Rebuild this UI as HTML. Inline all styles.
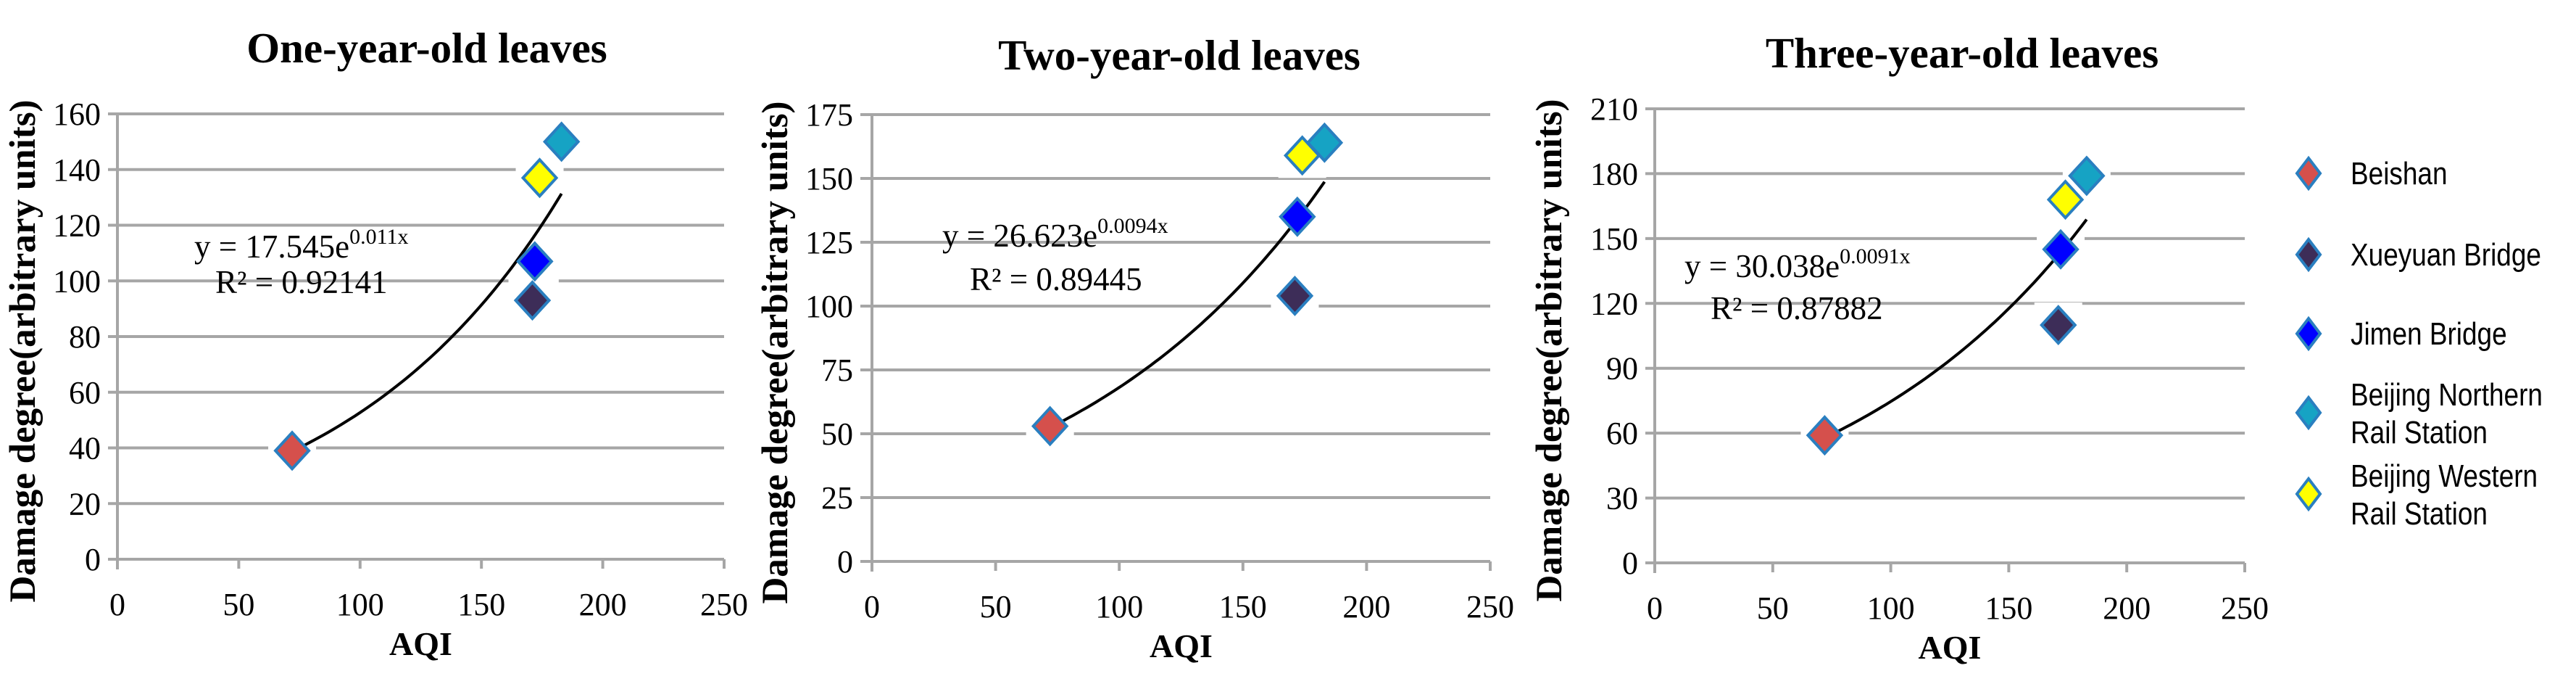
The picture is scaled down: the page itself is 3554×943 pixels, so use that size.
<!DOCTYPE html>
<html><head><meta charset="utf-8"><style>
html,body{margin:0;padding:0;background:#fff;}
svg{display:block;}
text{font-family:"Liberation Serif",serif;}
</style></head><body>
<svg id="svg" width="3554" height="943" viewBox="0 0 3554 943"></svg>
<script>
const NS="http://www.w3.org/2000/svg";
const svg=document.getElementById('svg');
const seriesNames=["Beishan","Xueyuan Bridge","Jimen Bridge","Beijing Northern Rail Station","Beijing Western Rail Station"];
const seriesColors=["#d5504c","#3d2d58","#0000ff","#16a3c4","#ffff00"];
const aqi=[72,171,172,183,174];
const oneYear=[39,93,107,150,137];
const twoYear=[53,104,135,164,159];
const threeYear=[59,110,145,179,168];
const xTicks=[0,50,100,150,200,250];
const yTicks1=[0,20,40,60,80,100,120,140,160];
const yTicks2=[0,25,50,75,100,125,150,175];
const yTicks3=[0,30,60,90,120,150,180,210];
const fitA=[17.545,26.623,30.038];
const fitB=[0.011,0.0094,0.0091];
const eqText=[["17.545","0.011x","0.92141"],["26.623","0.0094x","0.89445"],["30.038","0.0091x","0.87882"]];
const titles=["One-year-old leaves","Two-year-old leaves","Three-year-old leaves"];

function mk(tag,attrs,parent){const e=document.createElementNS(NS,tag);for(const k in attrs)e.setAttribute(k,attrs[k]);(parent||svg).appendChild(e);return e;}

const panels=[
 {x0:162,x1:999,y0:771,y1:157,gl:149,title:[589,65],yt:31,eq:[268,355],r2:[297,404],data:oneYear,ticks:yTicks1},
 {x0:1203,x1:2056,y0:774,y1:158,gl:1187,title:[1627,75],yt:1069,eq:[1300,340],r2:[1338,400],data:twoYear,ticks:yTicks2},
 {x0:2283,x1:3097,y0:776,y1:150,gl:2270,title:[2707,72],yt:2137,eq:[2324,382],r2:[2360,440],data:threeYear,ticks:yTicks3}
];

panels.forEach((p,pi)=>{
 const g=mk('g',{});
 
 
 const ymax=p.ticks[p.ticks.length-1];
 const X=v=>p.x0+(v-xTicks[0])/(xTicks[xTicks.length-1]-xTicks[0])*(p.x1-p.x0);
 const Y=v=>p.y0-(v/ymax)*(p.y0-p.y1);
 const t=mk('text',{x:p.title[0],y:p.title[1]+21,'text-anchor':'middle','font-size':59,'font-weight':'bold'},g);
 t.textContent=titles[pi];
 
 
 p.ticks.forEach(v=>{
  const l=mk('line',{x1:p.gl,x2:p.x1,y1:Y(v),y2:Y(v),stroke:'#a6a6a6','stroke-width':4},g);
  
  
  const tl=mk('text',{x:p.gl-10,y:Y(v)+15,'text-anchor':'end','font-size':44},g);
  tl.textContent=v;
  
  
 });
 const ax=mk('line',{x1:p.x0,x2:p.x0,y1:p.y1,y2:p.y0+14,stroke:'#a6a6a6','stroke-width':4},g);
 
 
 xTicks.forEach(v=>{
  const l=mk('line',{x1:X(v),x2:X(v),y1:p.y0,y2:p.y0+13,stroke:'#a6a6a6','stroke-width':4},g);
  
  
  const tl=mk('text',{x:X(v),y:p.y0+77,'text-anchor':'middle','font-size':44},g);
  tl.textContent=v;
  
  
 });
 const xl=mk('text',{x:(p.x0+p.x1)/2,y:p.y0+132,'text-anchor':'middle','font-size':46,'font-weight':'bold'},g);
 xl.textContent='AQI';
 
 
 const yc=(p.y0+p.y1)/2+20;
 const yl=mk('text',{x:p.yt+17,y:yc,'text-anchor':'middle','font-size':51,'font-weight':'bold',transform:`rotate(-90 ${p.yt+17} ${yc})`},g);
 yl.textContent='Damage degree(arbitrary units)';
 
 
 aqi.forEach((a,i)=>{
  const h=mk('rect',{x:X(a)-33,y:Y(p.data[i])-31,width:66,height:62,fill:'#fff'},g);
  
  
 });
 let d='';
 const xmin=Math.min(...aqi),xmax=Math.max(...aqi);
 for(let k=0;k<=60;k++){const xv=xmin+(xmax-xmin)*k/60;const yv=fitA[pi]*Math.exp(fitB[pi]*xv);d+=(k?'L':'M')+X(xv).toFixed(1)+' '+Y(yv).toFixed(1);}
 const tr=mk('path',{d:d,fill:'none',stroke:'#000','stroke-width':4},g);
 
 
 const eq=mk('text',{x:p.eq[0],y:p.eq[1],'font-size':45},g);
 eq.innerHTML=`y = ${eqText[pi][0]}e<tspan font-size="30" dy="-19">${eqText[pi][1]}</tspan>`;
 
 
 const r2=mk('text',{x:p.r2[0],y:p.r2[1],'font-size':45},g);
 r2.textContent='R² = '+eqText[pi][2];
 
 
 aqi.forEach((a,i)=>{
  const cx=X(a),cy=Y(p.data[i]);
  const m=mk('polygon',{points:`${cx},${cy-25} ${cx+23},${cy} ${cx},${cy+25} ${cx-23},${cy}`,fill:seriesColors[i],stroke:'#2a7fc0','stroke-width':4},g);
  
  
 });
});

const legY=[239,351,460,569,681];
const legLines=[["Beishan"],["Xueyuan Bridge"],["Jimen Bridge"],["Beijing Northern","Rail Station"],["Beijing Western","Rail Station"]];
legY.forEach((y,i)=>{
 const g=mk('g',{});
 
 
 const cx=3185;
 const m=mk('polygon',{points:`${cx},${y-21} ${cx+16},${y} ${cx},${y+21} ${cx-16},${y}`,fill:seriesColors[i],stroke:'#2a7fc0','stroke-width':4},g);
 
 
 const lines=legLines[i];
 lines.forEach((s,j)=>{
  const ty=lines.length===1?y+15:y-25+j*52+15;
  const t=mk('text',{x:3243,y:ty,'font-size':44,style:'font-family:"Liberation Sans",sans-serif',transform:`translate(3243 0) scale(0.84 1) translate(-3243 0)`},g);
  t.textContent=s;
  
  
 });
});
</script>
</body></html>
